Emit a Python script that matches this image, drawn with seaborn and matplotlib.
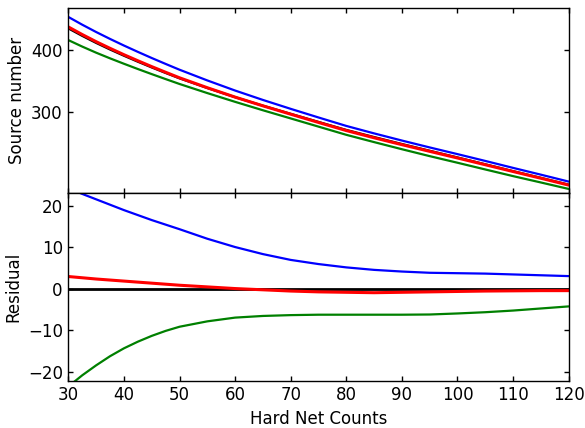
import matplotlib
matplotlib.use("Agg")
import matplotlib.pyplot as plt
import numpy as np
import pandas as pd
import seaborn as sns
from matplotlib.ticker import FixedLocator, FuncFormatter, NullLocator

# ---- data ----
counts = [30, 32.5, 35, 37.5, 40, 42.5, 45, 47.5, 50, 55, 60, 65, 70, 75,
          80, 85, 90, 95, 100, 105, 110, 115, 120]

src_black = [442.5, 427.3, 413.5, 401.0, 389.5, 378.8, 368.8, 359.4, 350.5, 335.0,
             321.0, 308.5, 297.0, 286.0, 275.5, 266.5, 258.0, 250.0, 242.3, 234.7,
             227.3, 220.3, 213.4]
src_blue = [466.8, 450.2, 435.1, 421.3, 408.5, 396.6, 385.4, 374.9, 364.9, 347.1,
            331.1, 316.9, 304.0, 292.0, 280.7, 271.1, 262.2, 253.9, 246.1, 238.4,
            230.8, 223.6, 216.5]
src_red = [445.5, 430.0, 415.9, 403.2, 391.4, 380.5, 370.2, 360.6, 351.4, 335.5,
           321.1, 308.3, 296.5, 285.3, 274.7, 265.6, 257.2, 249.3, 241.7, 234.2,
           226.9, 219.9, 213.0]
src_green = [419.0, 406.5, 395.1, 384.8, 375.2, 366.1, 357.5, 349.3, 341.4, 327.2,
             314.1, 302.0, 290.7, 279.8, 269.3, 260.3, 251.8, 243.8, 236.4, 229.1,
             222.1, 215.6, 209.2]

res_blue = [24.3, 22.9, 21.6, 20.3, 19.0, 17.8, 16.6, 15.5, 14.4, 12.1,
            10.1, 8.4, 7.0, 6.0, 5.2, 4.6, 4.2, 3.9, 3.8, 3.7, 3.5, 3.3, 3.1]
res_red = [3.0, 2.7, 2.4, 2.15, 1.9, 1.65, 1.4, 1.15, 0.9, 0.5,
           0.1, -0.2, -0.5, -0.7, -0.8, -0.9, -0.8, -0.7, -0.6, -0.5, -0.45, -0.4, -0.4]
res_green = [-23.5, -20.8, -18.4, -16.2, -14.3, -12.7, -11.3, -10.1, -9.1, -7.8,
             -6.9, -6.5, -6.3, -6.2, -6.2, -6.2, -6.2, -6.15, -5.9, -5.6, -5.2, -4.7, -4.2]

x_ticks = [30, 40, 50, 60, 70, 80, 90, 100, 110, 120]
top_yticks = [300, 400]
bottom_yticks = [-20, -10, 0, 10, 20]

# ---- style ----
sns.set_style("white")
plt.rcParams.update({
    "font.family": ["DejaVu Sans"],
    "font.size": 12,
    "axes.labelsize": 12,
    "xtick.labelsize": 12,
    "ytick.labelsize": 12,
    "xtick.direction": "in",
    "ytick.direction": "in",
    "xtick.top": True,
    "ytick.right": True,
    "xtick.bottom": True,
    "ytick.left": True,
    "xtick.major.size": 3.5,
    "ytick.major.size": 3.5,
    "xtick.major.width": 1.0,
    "ytick.major.width": 1.0,
    "xtick.color": "black",
    "ytick.color": "black",
    "axes.edgecolor": "black",
    "axes.linewidth": 1.0,
    "axes.labelcolor": "black",
    "text.color": "black",
})

fig = plt.figure(figsize=(5.85, 4.28), dpi=100)
ax1 = fig.add_axes([0.1168, 0.5484, 0.8553, 0.4322])
ax2 = fig.add_axes([0.1168, 0.1105, 0.8553, 0.4374], sharex=ax1)

top = pd.DataFrame({"x": counts, "black": src_black, "blue": src_blue,
                    "red": src_red, "green": src_green})
bot = pd.DataFrame({"x": counts, "blue": res_blue, "red": res_red, "green": res_green})

# top panel
sns.lineplot(data=top, x="x", y="black", ax=ax1, color="black", lw=1.6)
sns.lineplot(data=top, x="x", y="blue", ax=ax1, color="blue", lw=1.6)
sns.lineplot(data=top, x="x", y="green", ax=ax1, color="green", lw=1.6)
sns.lineplot(data=top, x="x", y="red", ax=ax1, color="red", lw=2.2)

ax1.set_yscale("log")
ax1.set_ylim(205, 486)
ax1.yaxis.set_major_locator(FixedLocator(top_yticks))
ax1.yaxis.set_major_formatter(FuncFormatter(lambda v, p: f"{v:.0f}"))
ax1.yaxis.set_minor_locator(NullLocator())
ax1.set_ylabel("Source number")
ax1.set_xlabel("")
plt.setp(ax1.get_xticklabels(), visible=False)

# bottom panel
ax2.axhline(0, color="black", lw=2.0, zorder=1)
sns.lineplot(data=bot, x="x", y="blue", ax=ax2, color="blue", lw=1.6)
sns.lineplot(data=bot, x="x", y="green", ax=ax2, color="green", lw=1.6)
sns.lineplot(data=bot, x="x", y="red", ax=ax2, color="red", lw=2.2)
ax2.set_ylim(-22.1, 23.0)
ax2.set_yticks(bottom_yticks)
ax2.set_ylabel("Residual")
ax2.set_xlabel("Hard Net Counts")

ax2.set_xlim(30, 120)
ax2.set_xticks(x_ticks)
ax2.xaxis.set_minor_locator(NullLocator())
ax2.yaxis.set_minor_locator(NullLocator())

for ax in (ax1, ax2):
    ax.tick_params(which="both", direction="in", top=True, right=True, pad=4)
    for s in ax.spines.values():
        s.set_visible(True)
        s.set_color("black")
        s.set_linewidth(1.0)

fig.savefig("out.png", dpi=100)
